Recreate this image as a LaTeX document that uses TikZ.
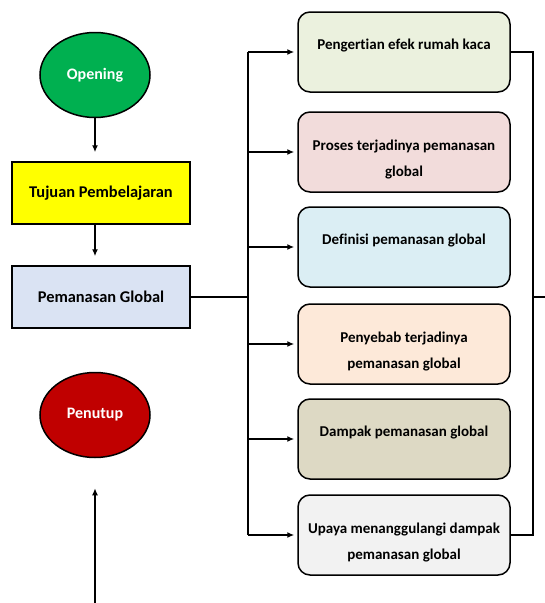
\documentclass[tikz,border=0pt]{standalone}
\usepackage{fontspec}
\setmainfont{Carlito}[Ligatures=NoCommon]
\usetikzlibrary{shapes.geometric,arrows.meta}
\definecolor{opengreen}{HTML}{00B050}
\definecolor{closered}{HTML}{C00000}
\definecolor{goalyellow}{HTML}{FFFF00}
\definecolor{maingray}{HTML}{DAE3F3}
\definecolor{topicA}{HTML}{EBF1DE}
\definecolor{topicB}{HTML}{F2DCDB}
\definecolor{topicC}{HTML}{DBEEF4}
\definecolor{topicD}{HTML}{FDE9D9}
\definecolor{topicE}{HTML}{DDD9C4}
\definecolor{topicF}{HTML}{F2F2F2}
\begin{document}
\begin{tikzpicture}[x=1pt,y=-1pt,line width=1.5pt,>={Latex[length=7pt,width=6pt]},
        endpoint/.style={ellipse,draw,minimum width=110pt,minimum height=85pt,text=white,
            font=\bfseries\fontsize{16}{18}\selectfont},
        mainbox/.style={draw,minimum width=178pt,minimum height=62pt,
            font=\bfseries\fontsize{16.4}{18}\selectfont},
        topic/.style={draw,rounded corners=12pt,minimum width=212pt,minimum height=80pt,
            align=center,text height=10pt,text depth=15.4pt,
            font=\bfseries\fontsize{15}{26}\selectfont},
        topictwo/.style={topic,text height=49pt,text depth=0pt}]
        \useasboundingbox (0,0) rectangle (545,603);
        % left column
        \node [endpoint,fill=opengreen] (open) at (95,75) {Opening};
        \node [mainbox,fill=goalyellow] (goal) at (101,193) {Tujuan Pembelajaran};
        \node [mainbox,fill=maingray] (main) at (101,297) {Pemanasan Global};
        \node [endpoint,fill=closered] (close) at (95,415) {Penutup};
        \coordinate (loopin) at (95,603);
        \draw [->,shorten >=9pt] (open) -- (open |- goal.north);
        \draw [->,shorten >=9pt] (goal.south -| open) -- (open |- main.north);
        \draw [->,shorten >=30pt] (loopin) -- (close);
        % sub topics
        \node [topic,fill=topicA] (t1) at (404,52) {Pengertian efek rumah kaca};
        \node [topictwo,fill=topicB] (t2) at (404,152) {Proses terjadinya pemanasan\\global};
        \node [topic,fill=topicC] (t3) at (404,247) {Definisi pemanasan global};
        \node [topictwo,fill=topicD] (t4) at (404,344) {Penyebab terjadinya\\pemanasan global};
        \node [topic,fill=topicE] (t5) at (404,439) {Dampak pemanasan global};
        \node [topictwo,fill=topicF] (t6) at (404,535) {Upaya menanggulangi dampak\\pemanasan global};
        \coordinate (lbus) at (248,297);
        \coordinate (rbus) at (533,297);
        \coordinate (loopout) at (545,297);
        \draw (main) -- (lbus);
        \draw (t1.west -| lbus) -- (t6.west -| lbus);
        \foreach \i in {1,...,6}
            \draw [->,shorten >=3pt] (t\i.west -| lbus) -- (t\i.west);
        \draw (t1.east) -- (t1.east -| rbus) -- (t6.east -| rbus) -- (t6.east);
        \draw (rbus) -- (loopout);
    \end{tikzpicture}
\end{document}
